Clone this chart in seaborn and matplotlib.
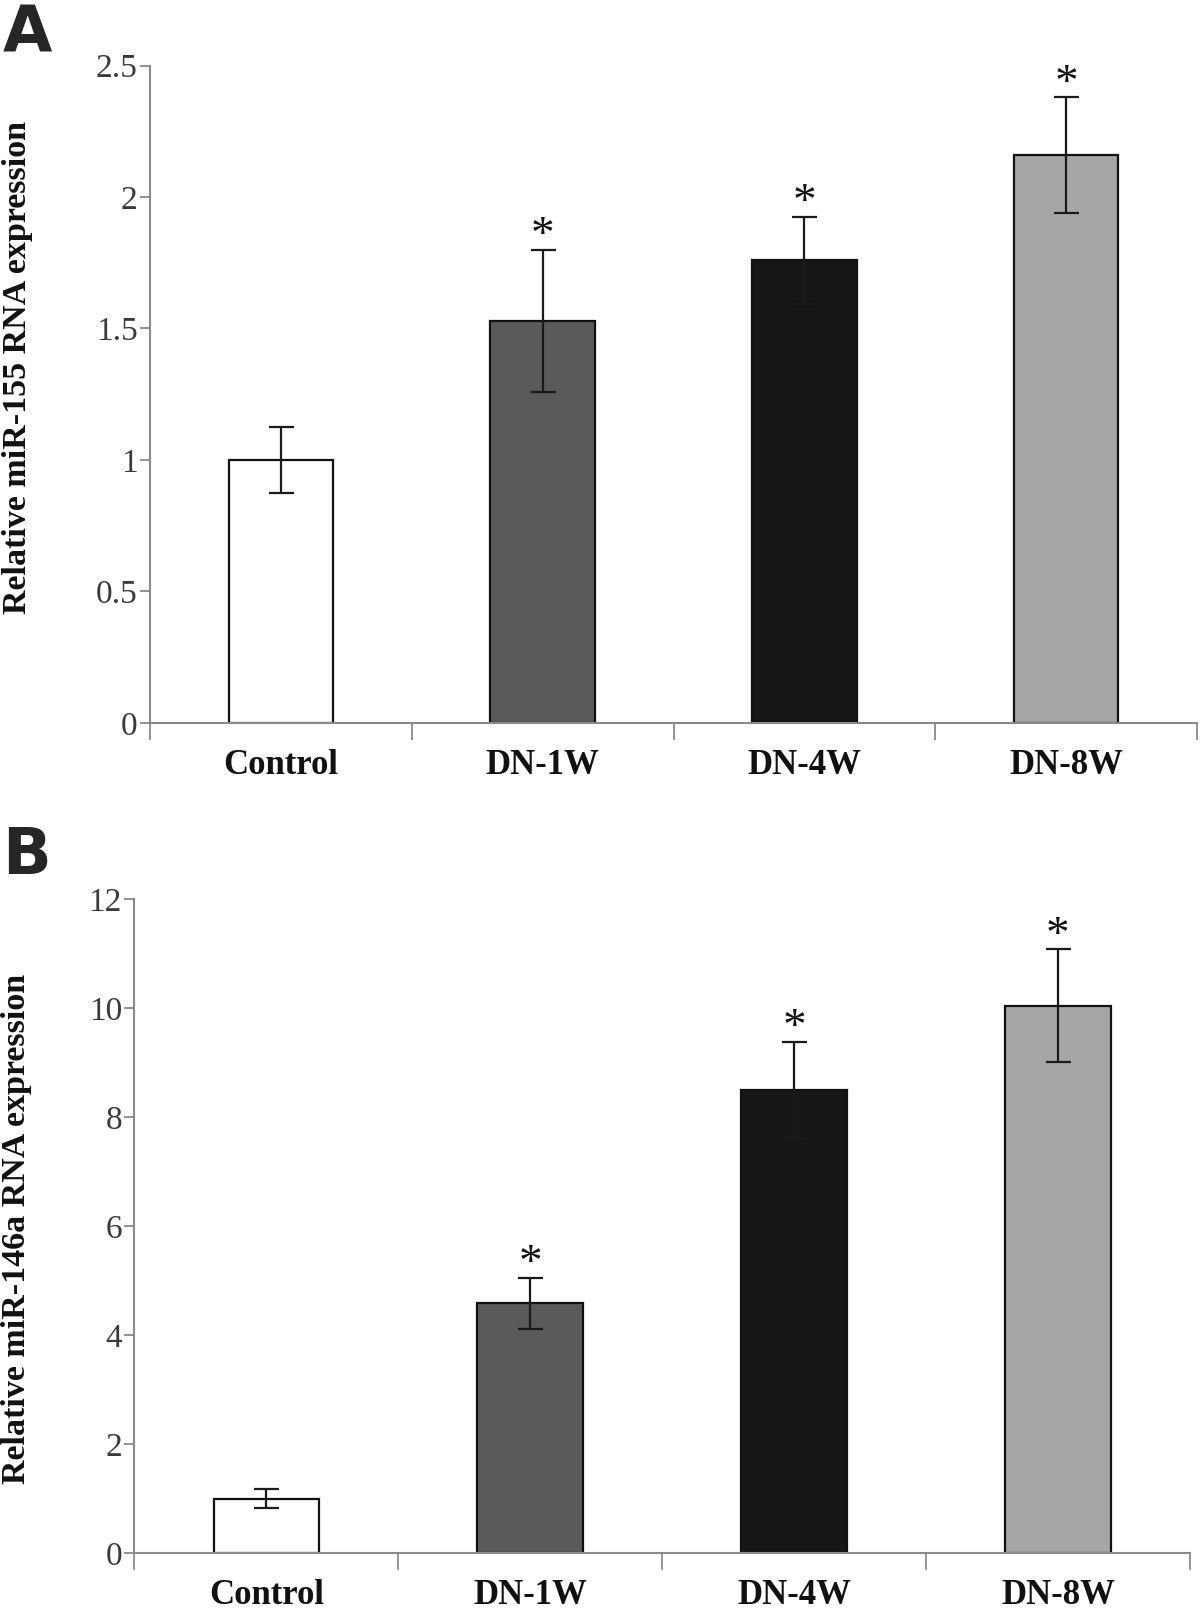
import pandas as pd
import matplotlib
matplotlib.use('Agg')
import matplotlib.pyplot as plt
import seaborn as sns

# data
groups = ['Control', 'DN-1W', 'DN-4W', 'DN-8W']
bar_colors = ['#ffffff', '#5a5a5a', '#161616', '#a6a6a6']

mir155 = [1.0, 1.53, 1.76, 2.16]
mir155_err = [0.125, 0.27, 0.165, 0.22]
mir155_sig = ['', '*', '*', '*']
mir155_ticks = [0, 0.5, 1, 1.5, 2, 2.5]
mir155_ticklabels = ['0', '0.5', '1', '1.5', '2', '2.5']

mir146a = [1.0, 4.58, 8.5, 10.05]
mir146a_err = [0.17, 0.47, 0.88, 1.03]
mir146a_sig = ['', '*', '*', '*']
mir146a_ticks = [0, 2, 4, 6, 8, 10, 12]
mir146a_ticklabels = ['0', '2', '4', '6', '8', '10', '12']

sns.set_theme(style='white')
plt.rcParams['font.family'] = ['Liberation Serif', 'DejaVu Serif']

axis_grey = '#8a8a8a'


def draw_panel(ax, values, errs, sig, ticks, ticklabels, ylabel, label_xy):
    df = pd.DataFrame({'group': groups, 'value': values})
    sns.barplot(data=df, x='group', y='value', hue='group', palette=bar_colors,
                width=0.4, edgecolor='#111111', linewidth=1.6, errorbar=None,
                legend=False, ax=ax)
    ax.errorbar(x=range(len(groups)), y=values, yerr=errs, fmt='none',
                ecolor='#1a1a1a', elinewidth=1.6, capsize=9, capthick=1.6)

    # significance stars above the error bars
    for i, s in enumerate(sig):
        if s:
            ax.annotate(s, xy=(i, values[i] + errs[i]), xytext=(0, -6),
                        textcoords='offset points', ha='center', va='bottom',
                        fontsize=34, color='#111111')

    ax.set_xlim(-0.5, len(groups) - 0.5)
    ax.set_ylim(ticks[0], ticks[-1])
    ax.set_yticks(ticks)
    ax.set_yticklabels(ticklabels, fontsize=24, color='#3a3a3a')
    ax.set_xticks(range(len(groups)))
    ax.set_xticklabels(groups, fontsize=25, fontweight='bold', color='#111111')
    ax.set_xticks([i - 0.5 for i in range(len(groups) + 1)], minor=True)
    ax.tick_params(axis='x', which='major', length=0, pad=19)
    ax.tick_params(axis='x', which='minor', length=12, width=1.3,
                   color=axis_grey, direction='out', bottom=True)
    ax.tick_params(axis='y', length=7, width=1.3, color=axis_grey,
                   direction='out', left=True, pad=2)

    for side in ['top', 'right']:
        ax.spines[side].set_visible(False)
    for side in ['left', 'bottom']:
        ax.spines[side].set_color(axis_grey)
        ax.spines[side].set_linewidth(1.5)

    ax.set_xlabel('')
    ax.set_ylabel(ylabel, fontsize=24.5, fontweight='bold', color='#111111')
    ax.yaxis.label.set_verticalalignment('center')
    ax.yaxis.set_label_coords(*label_xy)


fig = plt.figure(figsize=(12, 16.09), dpi=100)
ax_a = fig.add_axes([0.125, 0.5508, 0.8725, 0.4084])
ax_b = fig.add_axes([0.112, 0.0348, 0.8796, 0.4063])

draw_panel(ax_a, mir155, mir155_err, mir155_sig, mir155_ticks,
           mir155_ticklabels, 'Relative miR-155 RNA expression', (-0.127, 0.54))
draw_panel(ax_b, mir146a, mir146a_err, mir146a_sig, mir146a_ticks,
           mir146a_ticklabels, 'Relative miR-146a RNA expression', (-0.1115, 0.495))

fig.text(0.002, 0.998, 'A', fontsize=46, fontweight='bold', family='DejaVu Sans',
         ha='left', va='top')
fig.text(0.002, 0.487, 'B', fontsize=46, fontweight='bold', family='DejaVu Sans',
         ha='left', va='top')

plt.savefig('out.png', dpi=100, facecolor='white')
